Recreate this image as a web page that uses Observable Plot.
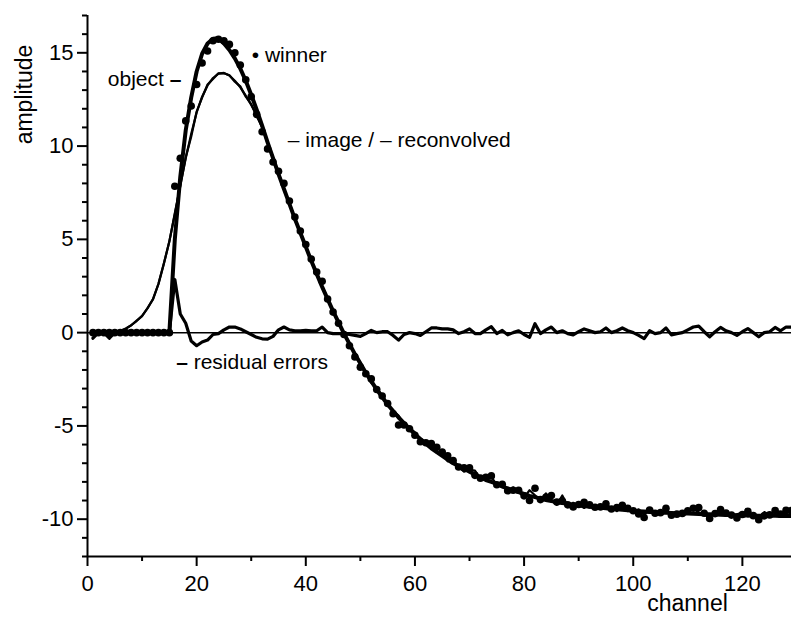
<!DOCTYPE html>
<html>
<head>
<meta charset="utf-8">
<script src="https://cdn.jsdelivr.net/npm/d3@7"></script>
<script src="https://cdn.jsdelivr.net/npm/@observablehq/plot@0.6"></script>
<style>
  html, body { margin: 0; padding: 0; background: #fff; }
  #chart svg { display: block; }
</style>
</head>
<body>
<div id="chart"></div>
<script>
// channel numbers 1..129
const channels = d3.range(1, 130);

// thick line: object
const objectVals = [
  0,0,0,0,0,0,0,0,0,0,0,0,0,0,0,
  5.0,8.35,10.85,12.6,14.0,14.95,15.5,15.75,15.78,15.5,
  15.15,14.7,14.15,13.5,12.75,11.95,11.1,10.2,9.35,8.5,
  7.7,6.9,6.1,5.35,4.6,3.85,3.15,2.45,1.8,1.15,
  0.55,-0.05,-0.6,-1.15,-1.65,-2.15,-2.6,-3.05,-3.45,-3.85,
  -4.2,-4.55,-4.85,-5.15,-5.45,-5.7,-5.95,-6.2,-6.4,-6.6,
  -6.8,-7.0,-7.15,-7.3,-7.45,-7.6,-7.75,-7.9,-8.0,-8.1,
  -8.25,-8.35,-8.45,-8.55,-8.65,-8.75,-8.82,-8.9,-8.97,-9.03,
  -9.08,-9.13,-9.18,-9.22,-9.26,-9.3,-9.33,-9.36,-9.39,-9.42,
  -9.45,-9.47,-9.5,-9.52,-9.55,-9.57,-9.59,-9.61,-9.63,-9.65,
  -9.66,-9.67,-9.68,-9.69,-9.7,-9.71,-9.72,-9.73,-9.74,-9.75,
  -9.76,-9.77,-9.78,-9.79,-9.8,-9.8,-9.81,-9.81,-9.82,-9.82,
  -9.82,-9.83,-9.83,-9.83
];

// dots: winner
const winnerVals = [
  0,0,0,0,0,0,0,0,0,0,0,0,0,0,0,
  7.85,9.35,11.35,12.15,13.3,14.45,15.1,15.65,15.73,15.65,
  15.45,15.0,14.35,13.55,12.65,11.7,10.77,9.85,9.15,8.65,
  8.0,7.05,6.2,5.45,4.72,3.95,3.25,2.75,1.8,1.1,
  0.5,-0.1,-0.7,-1.3,-1.85,-2.2,-2.48,-3.05,-3.4,-3.8,
  -4.35,-4.95,-4.95,-5.15,-5.5,-5.85,-5.9,-5.95,-6.15,-6.4,
  -6.6,-6.85,-7.2,-7.25,-7.25,-7.65,-7.8,-7.75,-7.68,-8.15,
  -8.13,-8.47,-8.45,-8.45,-8.75,-9.0,-8.34,-8.95,-8.82,-8.73,
  -9.08,-9.03,-9.23,-9.34,-9.21,-9.1,-9.23,-9.36,-9.34,-9.17,
  -9.45,-9.37,-9.25,-9.42,-9.55,-9.72,-9.91,-9.51,-9.68,-9.65,
  -9.41,-9.79,-9.73,-9.69,-9.55,-9.41,-9.37,-9.68,-9.96,-9.7,
  -9.48,-9.67,-9.78,-9.94,-9.75,-9.58,-9.81,-10.03,-9.82,-9.77,
  -9.54,-9.73,-9.53,-9.53
];

// thin line: image (measured)
const imageVals = [
  0,0.05,-0.05,0.05,0,0.1,0.22,0.38,0.65,0.88,
  1.32,1.78,2.62,3.72,4.88,6.4,7.85,9.4,10.5,11.85,
  12.6,13.3,13.6,13.9,13.9,13.8,13.45,13.2,12.65,12.25,
  11.6,11.05,10.15,9.4,8.55,7.65,6.95,6.1,5.3,4.65,
  3.85,3.1,2.5,1.8,1.2,0.5,-0.05,-0.55,-1.2,-1.6,
  -2.15,-2.7,-3.0,-3.35,-3.9,-4.2,-4.45,-4.95,-5.1,-5.35,
  -5.8,-5.9,-6.05,-6.45,-6.5,-6.9,-6.85,-7.15,-7.45,-7.35,
  -7.4,-7.85,-7.8,-7.75,-8.15,-8.05,-8.5,-8.3,-8.5,-8.85,
  -8.45,-8.72,-9.0,-8.62,-8.98,-9.23,-8.73,-9.28,-9.12,-9.21,
  -9.4,-9.18,-9.36,-9.44,-9.22,-9.4,-9.57,-9.35,-9.47,-9.6,
  -9.47,-9.74,-9.51,-9.58,-9.75,-9.46,-9.77,-9.63,-9.59,-9.5,
  -9.46,-9.62,-9.78,-9.89,-9.65,-9.56,-9.72,-9.88,-9.74,-9.65,
  -9.85,-9.71,-9.96,-9.62,-9.77,-9.57,-9.73,-9.63,-9.68
];

// thin line: reconvolved
const reconvolvedVals = [
  0,0,0,0,0.02,0.08,0.2,0.4,0.62,0.9,
  1.3,1.8,2.6,3.7,4.9,6.35,7.9,9.35,10.65,11.8,
  12.65,13.25,13.65,13.88,13.92,13.78,13.5,13.15,12.7,12.2,
  11.65,11.0,10.2,9.35,8.5,7.7,6.9,6.1,5.35,4.6,
  3.85,3.15,2.45,1.8,1.15,0.55,-0.05,-0.6,-1.15,-1.65,
  -2.15,-2.6,-3.05,-3.45,-3.85,-4.2,-4.55,-4.85,-5.15,-5.45,
  -5.7,-5.95,-6.2,-6.4,-6.6,-6.8,-7.0,-7.15,-7.3,-7.45,
  -7.6,-7.75,-7.9,-8.0,-8.1,-8.25,-8.35,-8.45,-8.55,-8.65,
  -8.75,-8.82,-8.9,-8.97,-9.03,-9.08,-9.13,-9.18,-9.22,-9.26,
  -9.3,-9.33,-9.36,-9.39,-9.42,-9.45,-9.47,-9.5,-9.52,-9.55,
  -9.57,-9.59,-9.61,-9.63,-9.65,-9.66,-9.67,-9.68,-9.69,-9.7,
  -9.71,-9.72,-9.73,-9.74,-9.75,-9.76,-9.77,-9.78,-9.79,-9.8,
  -9.8,-9.81,-9.81,-9.82,-9.82,-9.82,-9.83,-9.83,-9.83
];

// thick line: residual errors
const residualVals = [
  -0.3,0,0,-0.3,0,0,0,0,0,0,
  0,0,0,0,0,2.85,1.0,0.5,-0.45,-0.7,
  -0.5,-0.4,-0.1,-0.05,0.15,0.3,0.3,0.2,0.05,-0.1,
  -0.25,-0.33,-0.35,-0.2,0.15,0.3,0.15,0.1,0.1,0.12,
  0.1,0.1,0.3,0.0,-0.05,-0.05,-0.05,-0.1,-0.15,-0.2,
  -0.05,0.12,0.0,0.05,0.05,-0.15,-0.4,-0.1,0.0,-0.05,
  -0.15,0.05,0.25,0.25,0.2,0.2,0.15,-0.05,0.05,0.2,
  -0.05,-0.05,0.15,0.32,-0.05,0.12,-0.12,0.0,0.1,-0.1,
  -0.25,0.48,-0.05,0.15,0.3,0.0,0.1,-0.05,-0.12,0.05,
  0.2,0.1,0.0,0.05,0.25,0.0,0.1,0.25,0.1,0.0,
  -0.15,-0.32,0.1,-0.05,0.0,0.25,-0.12,-0.05,0.0,0.15,
  0.3,0.35,0.05,-0.22,0.05,0.28,0.1,0.0,-0.15,0.05,
  0.22,0.0,-0.22,0.0,0.05,0.28,0.1,0.3,0.3
];

// axis ticks
const xTicks = [0, 20, 40, 60, 80, 100, 120];
const xMinorTicks = [10, 30, 50, 70, 90, 110];
const yTicks = [-10, -5, 0, 5, 10, 15];
const yMinorTicks = [-12,-11,-9,-8,-7,-6,-4,-3,-2,-1,1,2,3,4,6,7,8,9,11,12,13,14,16,17];

// annotation texts and their left-edge anchor points (data units)
const noteText = ["object", "\u2022 winner", "\u2013 image / \u2013 reconvolved", "residual errors"];
const noteX = [3.72, 30.1, 36.7, 19.46];
const noteY = [13.23, 14.5, 9.96, -1.93];
// line-sample dashes drawn bold next to "object" and "residual errors"
const boldDashText = ["\u2013", "\u2013"];
const boldDashX = [15.06, 16.25];
const boldDashY = [13.23, -1.93];

const data = channels.map((c, i) => ({
  ch: c,
  object: objectVals[i],
  winner: winnerVals[i],
  image: imageVals[i],
  reconvolved: reconvolvedVals[i],
  residual: residualVals[i]
}));
const notes = noteText.map((t, i) => ({text: t, x: noteX[i], y: noteY[i]}));
const dashes = boldDashText.map((t, i) => ({text: t, x: boldDashX[i], y: boldDashY[i]}));

const FONT = "'Liberation Sans', Arial, Helvetica, sans-serif";

const chart = Plot.plot({
  width: 791,
  height: 617,
  marginLeft: 87,
  marginRight: 0,
  marginTop: 15,
  marginBottom: 61,
  x: {domain: [0, 129]},
  y: {domain: [-12, 17]},
  style: {fontFamily: FONT, color: "#000", background: "#fff", overflow: "visible"},
  marks: [
    Plot.ruleY([0], {stroke: "#000", strokeWidth: 1.5}),
    Plot.line(data, {x: "ch", y: "reconvolved", stroke: "#000", strokeWidth: 2.2, strokeLinejoin: "round"}),
    Plot.line(data, {x: "ch", y: "image", stroke: "#000", strokeWidth: 2.2, strokeLinejoin: "round"}),
    Plot.line(data, {x: "ch", y: "object", stroke: "#000", strokeWidth: 4, strokeLinejoin: "round"}),
    Plot.line(data, {x: "ch", y: "residual", stroke: "#000", strokeWidth: 3.2, strokeLinejoin: "round"}),
    Plot.dot(data, {x: "ch", y: "winner", r: 3.8, fill: "#000", stroke: null}),
    // axes lines
    Plot.ruleX([0], {stroke: "#000", strokeWidth: 2}),
    Plot.ruleY([-12], {stroke: "#000", strokeWidth: 2}),
    Plot.axisX({ticks: xTicks, tickSize: 10, tickPadding: 9, strokeWidth: 2, fontSize: 22, label: null, tickFormat: d => String(d)}),
    Plot.axisX({ticks: xMinorTicks, tickSize: 5, strokeWidth: 2, label: null, tickFormat: () => ""}),
    Plot.axisY({ticks: yTicks, tickSize: 10, tickPadding: 4, strokeWidth: 2, fontSize: 22, label: null, tickFormat: d => String(d)}),
    Plot.axisY({ticks: yMinorTicks, tickSize: 5, strokeWidth: 2, label: null, tickFormat: () => ""}),
    // axis titles
    Plot.text(["amplitude"], {frameAnchor: "top-left", dx: -56, dy: 79, rotate: -90, textAnchor: "middle", lineAnchor: "bottom", fontSize: 23, fill: "#000"}),
    Plot.text(["channel"], {frameAnchor: "bottom-left", dx: 600, dy: 54, textAnchor: "middle", lineAnchor: "bottom", fontSize: 23, fill: "#000"}),
    // annotations
    Plot.text(notes, {x: "x", y: "y", text: "text", textAnchor: "start", lineAnchor: "bottom", fontSize: 21, fill: "#000"}),
    Plot.text(dashes, {x: "x", y: "y", text: "text", textAnchor: "start", lineAnchor: "bottom", fontSize: 21, fontWeight: "bold", fill: "#000"})
  ]
});
document.getElementById("chart").appendChild(chart);
</script>
</body>
</html>
